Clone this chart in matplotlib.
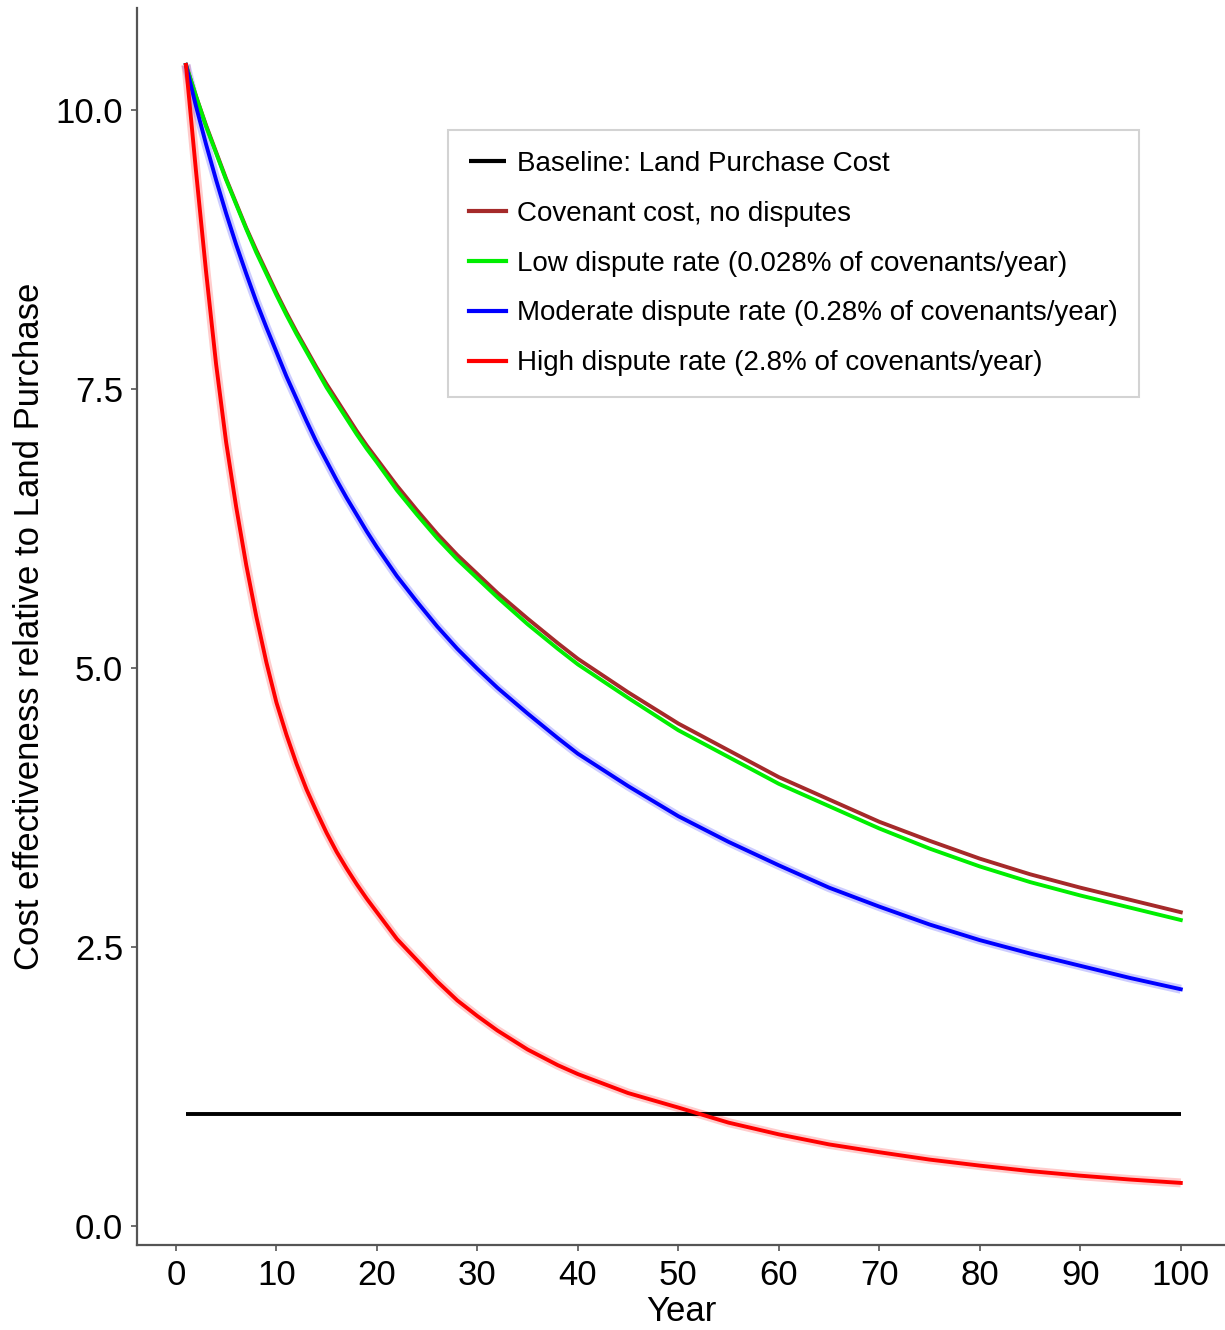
import matplotlib
matplotlib.use("Agg")
import matplotlib.pyplot as plt

plt.rcParams['font.family'] = ['Liberation Sans', 'DejaVu Sans']

# values
years = [1, 2, 3, 4, 5, 6, 7, 8, 9, 10, 11, 12, 13, 14, 15, 16, 17, 18, 19, 20,
         22, 24, 26, 28, 30, 32, 35, 38, 40, 45, 50, 55, 60, 65, 70, 75, 80,
         85, 90, 95, 100]

no_disputes = [10.40, 10.12, 9.86, 9.62, 9.38, 9.16, 8.94, 8.74, 8.55, 8.36,
               8.18, 8.01, 7.85, 7.69, 7.54, 7.40, 7.26, 7.12, 6.99, 6.87,
               6.63, 6.41, 6.20, 6.01, 5.84, 5.67, 5.44, 5.22, 5.08, 4.78,
               4.50, 4.26, 4.02, 3.82, 3.62, 3.45, 3.29, 3.15, 3.03, 2.92, 2.81]

low_rate = [10.40, 10.12, 9.85, 9.61, 9.37, 9.15, 8.93, 8.72, 8.53, 8.34,
            8.16, 7.99, 7.83, 7.67, 7.51, 7.37, 7.23, 7.09, 6.96, 6.84,
            6.59, 6.37, 6.16, 5.97, 5.80, 5.63, 5.39, 5.17, 5.03, 4.73,
            4.44, 4.20, 3.96, 3.76, 3.56, 3.38, 3.22, 3.08, 2.96, 2.85, 2.74]

moderate_rate = [10.40, 10.03, 9.69, 9.37, 9.07, 8.79, 8.53, 8.28, 8.05, 7.83,
                 7.61, 7.41, 7.21, 7.02, 6.85, 6.68, 6.52, 6.37, 6.22, 6.08,
                 5.82, 5.59, 5.37, 5.17, 4.99, 4.82, 4.59, 4.37, 4.23, 3.94,
                 3.67, 3.44, 3.23, 3.03, 2.86, 2.70, 2.56, 2.44, 2.33, 2.22, 2.12]

high_rate = [10.40, 9.45, 8.55, 7.72, 7.02, 6.44, 5.92, 5.46, 5.05, 4.69,
             4.40, 4.14, 3.91, 3.71, 3.52, 3.35, 3.20, 3.06, 2.93, 2.81,
             2.57, 2.38, 2.19, 2.02, 1.88, 1.75, 1.58, 1.44, 1.36, 1.19,
             1.06, 0.925, 0.82, 0.73, 0.66, 0.594, 0.54, 0.491, 0.45, 0.415, 0.385]

baseline_years = [1, 100]
baseline = [1.0, 1.0]

labels = ['Baseline: Land Purchase Cost',
          'Covenant cost, no disputes',
          'Low dispute rate (0.028% of covenants/year)',
          'Moderate dispute rate (0.28% of covenants/year)',
          'High dispute rate (2.8% of covenants/year)']

fig = plt.figure(figsize=(12.25, 13.3), dpi=100)
ax = fig.add_axes([0.112, 0.064, 0.888, 0.930])

# faint bands around the dispute curves
ax.plot(years, moderate_rate, color='#0000ff', lw=6.5, alpha=0.2, solid_capstyle='butt')
ax.plot(years, high_rate, color='#ff0000', lw=6.5, alpha=0.2, solid_capstyle='butt')

ax.plot(baseline_years, baseline, color='black', lw=2.8, label=labels[0], solid_capstyle='butt')
ax.plot(years, no_disputes, color='#a52a2a', lw=2.8, label=labels[1])
ax.plot(years, low_rate, color='#00ee00', lw=2.8, label=labels[2])
ax.plot(years, moderate_rate, color='#0000ff', lw=2.8, label=labels[3])
ax.plot(years, high_rate, color='#ff0000', lw=2.8, label=labels[4])

ax.set_xlim(-3.85, 104.4)
ax.set_ylim(-0.17, 10.91)
ax.set_xticks(range(0, 101, 10))
ax.set_yticks([0.0, 2.5, 5.0, 7.5, 10.0])
ax.set_yticklabels(['0.0', '2.5', '5.0', '7.5', '10.0'])

for s in ['top', 'right']:
    ax.spines[s].set_visible(False)
for s in ['left', 'bottom']:
    ax.spines[s].set_color('#555555')
    ax.spines[s].set_linewidth(1.6)
ax.tick_params(axis='both', colors='#555555', length=4, width=1.2,
               labelsize=25, labelcolor='black')
ax.tick_params(axis='x', pad=6)
ax.tick_params(axis='y', pad=6)

ax.set_xlabel('Year', fontsize=25, labelpad=2)
ax.set_ylabel('Cost effectiveness relative to Land Purchase', fontsize=25, labelpad=7)

leg = ax.legend(loc='upper left', bbox_to_anchor=(448 / 1225, 1 - 130 / 1330),
                bbox_transform=fig.transFigure, fontsize=20, frameon=True,
                fancybox=False, handlelength=1.35, handletextpad=0.4,
                labelspacing=0.86, borderpad=0.75, borderaxespad=0)
leg.get_frame().set_edgecolor('#c8c8c8')
leg.get_frame().set_linewidth(1.5)
for h in leg.get_lines():
    h.set_linewidth(3)

fig.savefig('out.png', dpi=100)
